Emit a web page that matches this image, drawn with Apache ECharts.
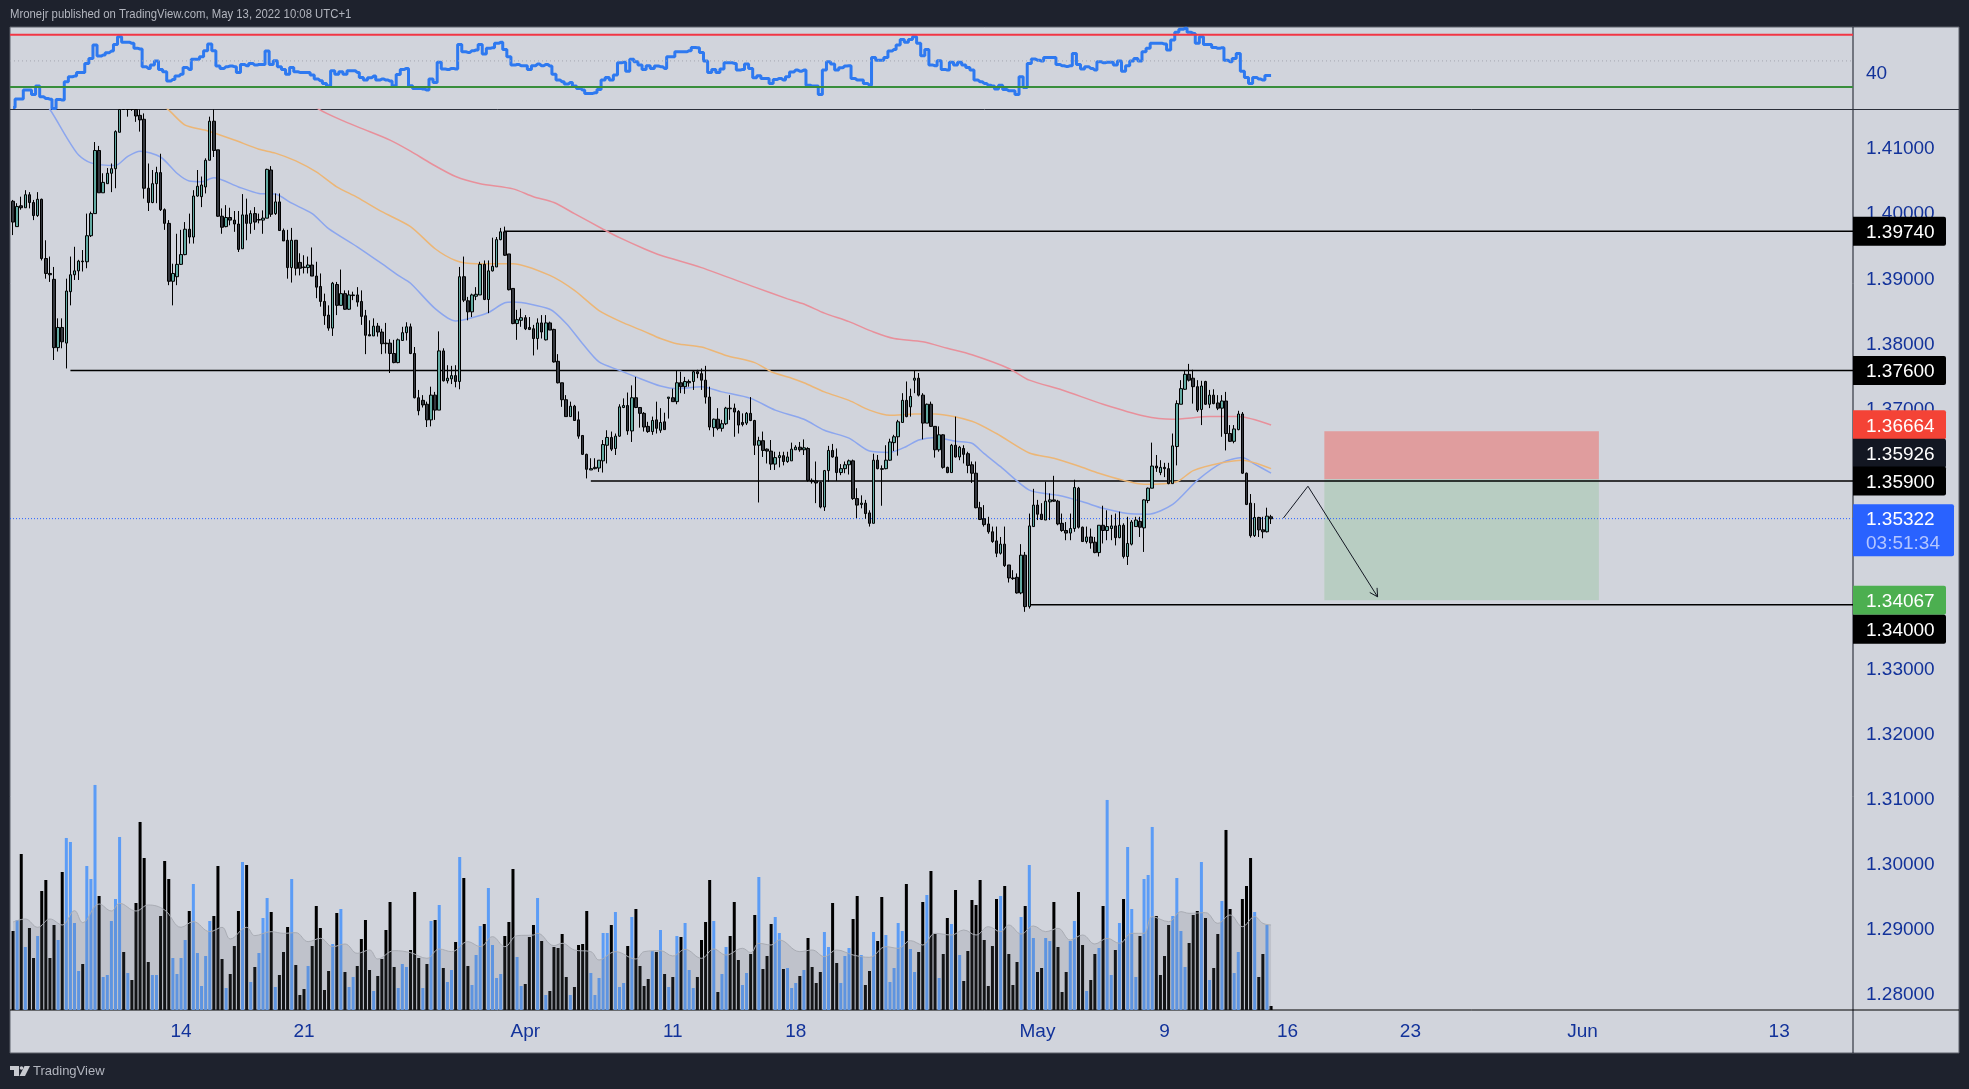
<!DOCTYPE html>
<html><head><meta charset="utf-8"><style>html,body{margin:0;padding:0;background:#1e222d}#c{width:1969px;height:1089px}</style>
<script src="https://cdn.jsdelivr.net/npm/echarts@6/dist/echarts.min.js"></script></head><body><div id="c"></div><script>
// bars: [open, high, low, close] in 1/10000 price units
const ohlc=[
[14020,14022,13968,13988],[13981,14017,13981,14012],[14013,14027,14007,14010],[14010,14037,14010,14030],[14030,14034,14009,14018],[14018,14022,13991,13998],[13998,14034,13996,14023],[14023,14024,13929,13932],[13932,13960,13901,13909],[13909,13935,13896,13907],
[13900,13919,13776,13795],[13795,13840,13789,13826],[13826,13840,13794,13804],[13802,13901,13763,13882],[13881,13935,13860,13907],[13907,13950,13899,13913],[13913,13930,13899,13928],[13928,13945,13912,13927],[13927,14001,13917,13967],[13967,14004,13965,14001],
[14001,14111,14001,14098],[14098,14105,14033,14033],[14033,14063,14033,14049],[14047,14071,14047,14063],[14063,14078,14034,14070],[14070,14129,14040,14127],[14126,14195,14126,14180],[14180,14195,14162,14165],[14170,14190,14150,14180],[14180,14185,14159,14170],
[14170,14180,14142,14151],[14152,14165,14127,14145],[14146,14155,14024,14040],[14040,14078,14005,14018],[14018,14068,14017,14047],[14047,14073,14017,14064],[14064,14093,14005,14007],[14007,14009,13976,13986],[13986,13991,13891,13897],[13897,13924,13860,13909],
[13904,13970,13891,13923],[13923,13976,13922,13938],[13938,13988,13937,13977],[13977,14001,13955,13965],[13965,14037,13955,14028],[14028,14068,14027,14043],[14027,14058,14011,14045],[14042,14086,14032,14083],[14083,14150,14083,14143],[14143,14161,14088,14098],
[14099,14099,13996,13997],[13997,14009,13970,13980],[13981,14014,13980,13995],[13995,14010,13983,13991],[13991,14005,13973,13985],[13985,14005,13942,13946],[13947,14031,13947,13999],[13999,14024,13960,13986],[13986,14006,13970,14001],[14001,14011,13976,13988],
[13991,14001,13986,13992],[13991,14006,13970,13994],[13994,14070,13994,14069],[14068,14074,13996,14000],[14001,14032,13999,14019],[14019,14032,13975,13975],[13975,13978,13959,13959],[13960,13976,13901,13918],[13918,13979,13895,13960],[13960,13960,13906,13917],
[13926,13940,13906,13917],[13919,13937,13909,13918],[13918,13935,13909,13922],[13922,13949,13905,13905],[13905,13927,13871,13888],[13889,13909,13858,13866],[13866,13878,13830,13844],[13845,13860,13821,13825],[13825,13896,13813,13894],[13892,13896,13845,13860],
[13860,13915,13860,13878],[13878,13883,13853,13854],[13854,13883,13853,13876],[13875,13881,13868,13876],[13876,13888,13858,13865],[13866,13883,13830,13843],[13844,13853,13785,13814],[13815,13837,13813,13813],[13813,13840,13813,13828],[13828,13833,13812,13819],
[13819,13824,13785,13801],[13802,13833,13786,13801],[13802,13808,13756,13786],[13786,13807,13771,13772],[13772,13809,13771,13807],[13806,13827,13806,13818],[13818,13834,13806,13827],[13827,13832,13785,13786],[13786,13796,13717,13718],[13718,13730,13691,13698],
[13714,13722,13703,13707],[13708,13712,13673,13684],[13684,13735,13674,13722],[13722,13727,13684,13699],[13699,13820,13699,13790],[13790,13794,13743,13744],[13744,13768,13740,13748],[13747,13767,13739,13752],[13752,13768,13734,13743],[13743,13919,13731,13904],
[13904,13935,13865,13868],[13867,13873,13837,13850],[13850,13878,13842,13876],[13874,13888,13868,13877],[13876,13927,13876,13923],[13923,13929,13868,13869],[13869,13929,13848,13913],[13913,13964,13912,13920],[13919,13965,13919,13961],[13961,13979,13960,13973],
[13973,13981,13936,13937],[13939,13939,13883,13884],[13886,13886,13831,13832],[13832,13853,13807,13838],[13837,13855,13827,13841],[13841,13845,13822,13824],[13826,13842,13822,13823],[13824,13830,13783,13809],[13809,13840,13792,13833],[13833,13845,13809,13819],
[13807,13845,13806,13833],[13833,13835,13822,13822],[13823,13824,13772,13773],[13774,13785,13740,13741],[13741,13741,13704,13715],[13715,13722,13689,13689],[13689,13712,13689,13705],[13705,13707,13683,13683],[13684,13697,13655,13659],[13660,13660,13630,13631],
[13631,13632,13594,13608],[13607,13625,13607,13609],[13609,13625,13608,13611],[13610,13622,13604,13622],[13621,13653,13603,13646],[13645,13668,13617,13657],[13657,13666,13636,13639],[13640,13663,13630,13659],[13659,13708,13658,13704],[13703,13717,13702,13706],
[13706,13726,13661,13667],[13667,13737,13650,13718],[13718,13750,13702,13703],[13703,13703,13672,13694],[13694,13696,13666,13673],[13674,13681,13664,13666],[13666,13689,13661,13683],[13684,13712,13663,13671],
[13668,13702,13664,13680],[13681,13695,13669,13669],
[13717,13719,13686,13719],[13718,13732,13712,13712],[13712,13760,13708,13741],[13741,13758,13725,13735],[13735,13750,13724,13743],[13741,13746,13735,13743],[13743,13760,13730,13758],[13758,13761,13748,13755],[13755,13763,13730,13745],[13745,13767,13709,13719],
[13719,13735,13668,13673],[13672,13686,13658,13685],[13685,13702,13668,13671],[13671,13684,13666,13678],[13678,13704,13676,13702],[13702,13722,13684,13701],[13702,13709,13658,13696],[13697,13699,13663,13676],[13680,13694,13674,13677],[13679,13696,13676,13694],
[13694,13719,13682,13683],[13683,13684,13630,13645],[13645,13658,13557,13652],[13652,13666,13627,13637],[13639,13640,13617,13636],[13636,13653,13607,13616],[13616,13635,13607,13626],[13626,13635,13611,13629],[13629,13635,13614,13620],[13620,13635,13618,13627],
[13621,13649,13621,13639],[13638,13645,13638,13642],[13642,13650,13635,13638],[13638,13654,13630,13641],[13640,13642,13589,13591],[13591,13594,13586,13589],[13590,13620,13556,13587],[13588,13589,13548,13550],[13550,13607,13544,13606],[13606,13644,13589,13637],
[13637,13647,13626,13627],[13627,13640,13590,13603],[13603,13616,13599,13609],[13609,13620,13602,13615],[13615,13623,13600,13621],[13621,13623,13561,13563],[13563,13579,13533,13553],[13554,13568,13548,13556],[13556,13561,13532,13540],[13541,13545,13520,13525],
[13525,13632,13525,13622],[13622,13630,13608,13609],[13609,13614,13552,13608],[13609,13645,13608,13622],[13622,13655,13621,13650],[13649,13661,13636,13658],[13658,13684,13629,13681],[13680,13725,13680,13714],[13714,13743,13688,13689],[13704,13732,13689,13720],
[13745,13760,13725,13748],[13748,13756,13720,13722],[13722,13725,13654,13679],[13679,13709,13679,13708],[13708,13712,13673,13674],[13674,13674,13626,13638],[13638,13674,13635,13661],[13661,13662,13609,13611],[13611,13612,13602,13603],[13603,13647,13603,13645],
[13645,13689,13626,13627],[13627,13644,13622,13642],[13640,13645,13617,13631],[13632,13635,13602,13614],[13615,13620,13587,13602],[13602,13620,13548,13549],[13549,13558,13530,13531],[13532,13553,13520,13523],[13524,13535,13509,13512],[13512,13520,13495,13497],
[13498,13520,13473,13479],[13479,13504,13477,13493],[13493,13520,13458,13460],[13461,13461,13434,13441],[13441,13453,13438,13440],[13442,13448,13417,13418],[13418,13493,13416,13476],[13476,13481,13389,13397],[13397,13540,13394,13521],[13520,13578,13520,13553],
[13553,13561,13530,13539],[13539,13556,13530,13531],[13530,13589,13530,13559],[13558,13571,13530,13561],[13561,13598,13558,13559],[13559,13561,13522,13524],[13525,13540,13512,13514],[13514,13527,13499,13510],[13510,13540,13499,13517],[13517,13592,13512,13580],
[13579,13581,13517,13519],[13519,13520,13497,13497],[13497,13520,13494,13504],[13504,13517,13486,13495],[13496,13504,13479,13480],[13480,13522,13474,13522],[13522,13552,13494,13514],[13514,13545,13499,13520],[13517,13538,13499,13521],[13521,13540,13491,13503],
[13503,13543,13502,13522],[13522,13525,13471,13474],[13474,13535,13461,13494],[13493,13530,13491,13527],[13520,13535,13520,13530],[13528,13535,13504,13519],[13518,13562,13481,13561],[13560,13580,13556,13579],[13579,13649,13579,13613],[13613,13630,13604,13610],
[13603,13622,13599,13611],[13611,13618,13596,13609],[13609,13618,13585,13586],[13586,13663,13586,13644],[13643,13714,13614,13709],[13708,13745,13708,13732],[13731,13759,13730,13754],[13754,13770,13743,13745],[13748,13761,13709,13735],[13735,13745,13696,13699],
[13700,13744,13676,13736],[13743,13744,13707,13708],[13708,13730,13702,13722],[13722,13731,13708,13709],[13710,13722,13699,13702],[13702,13722,13658,13713],[13713,13727,13637,13663],[13663,13676,13650,13651],[13651,13676,13648,13670],[13669,13698,13668,13693],
[13693,13696,13601,13602],[13602,13603,13553,13554],[13556,13570,13503,13506],[13506,13556,13504,13534],[13534,13535,13504,13515],[13515,13535,13502,13512],[13512,13549,13511,13536],[13535,13538,13524,13532]
];
const volumes=[
237,270,468,189,246,156,222,357,390,156,255,210,414,516,504,261,117,138,432,393,
675,342,99,105,267,333,519,174,111,90,321,564,456,144,105,105,282,447,393,156,
108,156,210,297,378,171,72,162,267,282,432,153,66,108,192,297,444,435,84,129,
171,276,336,294,69,105,174,249,393,135,45,63,132,192,312,246,60,117,198,291,
303,114,69,99,132,213,270,120,57,102,153,240,324,129,66,138,129,180,354,156,
66,138,267,270,315,126,84,120,204,459,396,132,75,165,252,258,366,195,96,108,
222,264,423,159,72,78,219,255,336,207,45,57,189,186,228,99,45,69,195,198,
297,111,45,96,231,231,255,294,69,81,192,279,303,132,72,93,177,174,240,108,
69,99,222,219,261,120,66,99,210,264,390,267,54,108,189,222,324,150,75,111,
168,285,399,123,162,258,279,231,123,126,66,81,102,120,216,129,81,114,234,189,
321,141,81,162,186,273,342,165,75,117,234,207,339,225,84,126,261,237,378,183,
114,174,324,345,417,228,96,168,276,258,360,165,87,177,330,315,390,210,72,192,
333,342,372,168,75,144,279,312,435,216,114,126,216,207,324,189,54,114,207,267,
354,195,57,90,168,186,312,630,105,180,261,333,489,303,99,222,393,405,549,282,
105,162,255,282,396,237,129,201,285,297,444,276,90,126,228,327,540,303,111,174,
333,372,456,294,99,168,255,12];
const volumeUp=[
0,1,0,1,0,0,1,0,0,0,0,1,0,1,1,1,1,0,1,1,
1,0,1,1,1,1,1,0,1,0,0,0,0,0,1,1,0,0,0,1,
1,1,1,0,1,1,1,1,1,0,0,0,1,0,0,0,1,0,1,0,
1,1,1,0,1,0,0,0,1,0,0,0,1,0,0,0,0,0,1,0,
1,0,1,1,0,0,0,0,1,0,0,0,0,0,1,1,1,0,0,0,
1,0,1,0,1,0,1,1,0,1,0,0,1,1,1,0,1,1,1,1,
0,0,0,1,1,0,0,0,1,0,1,0,0,0,0,0,1,0,0,0,
0,1,1,1,1,1,0,1,1,1,0,1,0,0,0,0,1,0,1,0,
1,0,1,0,1,1,1,0,0,0,0,1,0,1,1,0,0,0,1,1,
0,0,1,0,0,0,1,1,0,1,1,1,0,1,0,0,0,0,1,1,
0,0,1,1,1,0,0,1,0,0,1,0,0,1,1,1,1,1,0,1,
1,0,0,1,0,0,1,0,0,1,0,1,0,0,0,0,0,0,0,0,
0,1,0,0,0,0,1,0,1,1,0,0,1,1,0,0,0,0,1,1,
0,0,1,0,0,1,0,1,1,0,1,0,1,1,1,0,1,1,1,0,
0,0,0,1,1,1,1,0,0,0,1,0,1,0,0,1,0,0,1,1,
0,0,0,1,0,0,1,0];
const volumeAverage=[[0,264],[3,273],[6,248],[9,273],[12,255],[15,298],[17,262],[21,318],[24,297],[26,320],[30,297],[33,315],[37,300],[41,248],[44,265],[48,235],[51,248],[53,213],[57,248],[59,223],[63,235],[66,230],[69,232],[72,205],[75,215],[78,190],[81,198],[84,170],[87,180],[89,153],[93,178],[97,172],[101,155],[104,183],[107,175],[111,205],[114,190],[117,220],[120,190],[123,223],[127,225],[128,230],[132,193],[134,200],[137,180],[141,175],[143,150],[147,175],[152,153],[154,175],[158,178],[161,162],[164,182],[168,155],[171,183],[174,165],[178,185],[180,172],[182,200],[185,195],[187,210],[192,175],[195,180],[198,160],[201,180],[205,165],[209,158],[213,190],[216,185],[219,208],[222,195],[225,230],[229,225],[232,240],[235,225],[238,250],[241,235],[243,255],[246,228],[249,252],[252,235],[255,245],[258,210],[261,225],[264,198],[267,215],[270,200],[273,230],[276,230],[278,280],[282,265],[285,295],[287,290],[291,292],[294,260],[297,285],[300,250],[303,280],[305,260],[307,255]];
const rsi=[
14.4,21.0,21.0,27.7,27.7,24.4,30.8,22.6,21.3,20.8,13.7,20.6,20.1,34.1,37.9,38.4,41.2,41.2,48.1,51.9,
62.1,53.7,54.5,56.3,57.5,62.6,68.5,64.2,64.2,63.4,59.6,59.1,45.6,44.3,46.8,49.9,43.5,41.7,34.6,35.9,
38.4,39.9,45.0,43.5,51.2,51.2,53.2,57.8,62.9,57.8,46.1,44.3,45.6,46.1,45.6,41.2,47.3,46.3,48.1,46.8,
47.3,47.3,57.5,47.3,50.1,45.6,43.5,39.9,45.0,41.7,41.2,41.2,41.2,39.2,36.1,34.8,32.8,31.0,42.5,39.9,
41.7,39.9,42.5,42.5,41.2,37.4,35.4,37.1,38.4,35.4,36.1,35.4,34.6,31.0,39.7,43.5,44.3,31.0,29.0,29.0,
28.5,27.7,36.1,33.6,48.9,43.8,43.5,44.3,43.8,62.6,57.0,56.5,57.8,58.3,62.6,55.2,59.6,60.1,63.4,64.2,
58.8,53.2,46.8,47.3,46.3,46.3,43.5,46.3,47.6,46.3,47.3,46.1,39.9,35.4,34.1,32.3,33.6,30.8,29.0,27.7,
25.2,25.2,25.7,28.2,35.4,37.4,35.4,39.2,48.6,48.9,42.2,51.2,49.4,46.8,43.5,46.3,44.3,46.1,
45.6,44.3,53.2,53.2,57.0,57.0,57.0,57.8,60.3,60.1,
56.5,49.9,41.2,43.5,41.2,43.8,48.6,48.6,48.1,43.0,
43.5,47.6,44.3,37.1,38.7,36.6,36.6,32.8,35.9,36.6,
35.4,37.9,41.5,43.0,42.2,43.0,31.5,30.8,30.8,24.4,
43.0,49.4,47.6,43.0,44.8,46.1,46.3,36.6,35.4,35.4,
32.8,31.5,52.7,50.6,50.6,52.7,57.5,58.8,62.1,66.4,
64.2,66.4,68.5,63.4,54.0,58.8,46.8,46.3,50.1,43.5,
43.0,48.9,46.8,48.9,46.8,45.0,43.0,35.4,34.1,32.8,
31.5,30.8,28.5,31.5,28.2,27.2,27.2,24.4,37.9,29.7,
48.1,51.4,50.6,49.9,52.7,52.7,52.7,47.3,46.3,45.8,
46.3,55.7,47.3,43.8,45.6,44.3,43.0,49.4,48.6,48.9,
48.9,46.8,49.9,42.2,46.3,49.9,51.9,49.9,57.0,59.6,
63.4,63.4,63.4,62.9,58.3,65.9,71.8,74.1,74.9,71.8,
71.0,63.4,68.5,62.6,62.6,60.3,59.6,60.1,50.6,49.4,
51.9,55.7,42.2,37.4,32.8,37.4,36.1,35.4,38.9,38.9];
const emaFast=[[5,14190],[9,14161],[13,14119],[16,14091],[19,14079],[25,14075],[28,14089],[31,14097],[36,14088],[40,14063],[43,14051],[46,14050],[49,14056],[55,14042],[60,14032],[64,14031],[68,14017],[73,14001],[77,13978],[84,13950],[90,13924],[94,13906],[97,13894],[103,13855],[108,13836],[112,13841],[116,13849],[120,13864],[122,13865],[131,13854],[135,13832],[139,13801],[143,13773],[148,13760],[152,13750],[158,13736],[162,13732],[168,13735],[173,13727],[180,13717],[186,13699],[193,13685],[198,13668],[204,13656],[209,13636],[214,13634],[218,13643],[221,13653],[225,13657],[230,13651],[234,13648],[237,13632],[241,13612],[248,13576],[255,13568],[261,13558],[266,13548],[272,13540],[277,13539],[283,13554],[289,13591],[295,13618],[300,13626],[303,13616],[307,13602]];
const emaMid=[[32,14190],[38,14160],[42,14137],[47,14129],[54,14114],[60,14100],[64,14094],[69,14082],[74,14065],[79,14042],[84,14026],[90,14004],[97,13981],[103,13947],[108,13929],[113,13924],[122,13924],[131,13906],[137,13883],[143,13852],[149,13833],[154,13820],[158,13809],[162,13801],[168,13796],[174,13783],[181,13772],[185,13758],[190,13748],[193,13741],[198,13727],[204,13714],[209,13699],[214,13691],[220,13693],[225,13693],[234,13682],[240,13663],[248,13633],[254,13625],[260,13613],[265,13602],[271,13591],[276,13585],[284,13589],[288,13606],[295,13618],[300,13622],[307,13609]];
const emaSlow=[[65,14200],[75,14160],[80,14145],[85,14132],[92,14114],[97,14097],[102,14078],[108,14058],[114,14047],[122,14039],[127,14027],[132,14018],[137,14001],[144,13977],[148,13964],[154,13947],[158,13937],[168,13918],[181,13888],[189,13870],[193,13862],[198,13848],[204,13835],[210,13819],[215,13809],[222,13804],[228,13794],[234,13784],[243,13763],[248,13745],[256,13730],[266,13708],[276,13690],[283,13685],[292,13689],[299,13689],[307,13676]];
const priceTicks=[1.41,1.40,1.39,1.38,1.37,1.36,1.35,1.34,1.33,1.32,1.31,1.30,1.29,1.28];
const rsiTicks=[40];
const rsiLevels=[70,50,30];
const timeLabels={41:'14',71:'21',125:'Apr',161:'11',191:'18',250:'May',281:'9',311:'16',341:'23',383:'Jun',431:'13'};
const levelPrices=[1.3974,1.376,1.359,1.34];
const levelStartBars=[120,14,141,248];
const lastPrice=1.35322;
const countdown='03:51:34';
const riskBars=[320,387];
const stopPrice=1.36664, entryPrice=1.35926, targetPrice=1.34067;
const arrowBars=[310,316,333];
const arrowPrices=[1.3533,1.3582,1.3412];
const tagPrices=[1.3974,1.376,1.36664,1.35926,1.359,1.34067,1.34];

// layout / style
const BAR_SLOTS=450, AXIS_X=1853, PANE_X=10, PRICE_MAX=1.4161, AXIS_FONT='"Liberation Sans",sans-serif', AXIS_COLOR='#12329a', TAG_H=29, FS=19;
const tagColor={1.3974:'#000',1.376:'#000',1.36664:'#f44336',1.35926:'#131722',1.359:'#000',1.34067:'#4caf50',1.34:'#000'};
const tagShift={1.36664:-6.5,1.35926:-26,1.34:24.5};
if(ohlc.length!==308||volumes.length!==308||volumeUp.length!==308||rsi.length!==308) throw new Error('len '+[ohlc.length,volumes.length,volumeUp.length,rsi.length]);

const cats=Array.from({length:BAR_SLOTS},(_,i)=>String(i));
const fmtP=v=>v.toFixed(5);
const scaled=a=>a.map(([i,p])=>[i,p/1e4]);
const clampTop=v=>Math.min(v/1e4,PRICE_MAX);
const chart=echarts.init(document.getElementById('c'),null,{renderer:'canvas'});

function drawRsiLevels(params,api){
  const styles=[{stroke:'#f23645',lineWidth:2},{stroke:'#a4a7b0',lineWidth:1,lineDash:[1,3]},{stroke:'#388e3c',lineWidth:2}];
  return {type:'group',children:rsiLevels.map((v,k)=>{const y=api.coord([0,v])[1];
    return {type:'line',shape:{x1:PANE_X,y1:y,x2:AXIS_X,y2:y},style:styles[k]}})};
}
function drawOverlay(params,api){
  const ch=[];
  const rect=(b0,b1,p0,p1,fill)=>{const a=api.coord([b0,p0]),b=api.coord([b1,p1]);return{type:'rect',shape:{x:a[0],y:a[1],width:b[0]-a[0],height:b[1]-a[1]},style:{fill}}};
  ch.push(rect(riskBars[0],riskBars[1],stopPrice,entryPrice,'#e09d9e'));
  ch.push(rect(riskBars[0],riskBars[1],entryPrice,targetPrice,'#b8cdc2'));
  levelPrices.forEach((p,k)=>{const a=api.coord([levelStartBars[k],p]);
    ch.push({type:'line',shape:{x1:a[0],y1:a[1],x2:AXIS_X,y2:a[1]},style:{stroke:'#000',lineWidth:1.5}})});
  const ly=api.coord([0,lastPrice])[1];
  ch.push({type:'line',shape:{x1:PANE_X,y1:ly,x2:AXIS_X,y2:ly},style:{stroke:'#2962ff',lineWidth:1,lineDash:[1,2]}});
  const pts=arrowBars.map((b,k)=>api.coord([b,arrowPrices[k]]));
  ch.push({type:'polyline',shape:{points:pts},style:{stroke:'#131722',lineWidth:1,fill:null}});
  const e=pts[2],s=pts[1],ang=Math.atan2(e[1]-s[1],e[0]-s[0]),L=9;
  ch.push({type:'polyline',shape:{points:[[e[0]-L*Math.cos(ang-0.5),e[1]-L*Math.sin(ang-0.5)],e,[e[0]-L*Math.cos(ang+0.5),e[1]-L*Math.sin(ang+0.5)]]},style:{stroke:'#131722',lineWidth:1,fill:null}});
  return {type:'group',children:ch};
}
function drawTags(params,api){
  const x=AXIS_X, ch=[];
  const txt=(t,cy,fill)=>({type:'text',z2:5,style:{text:t,x:x+13,y:cy,fill,font:FS+'px '+AXIS_FONT,verticalAlign:'middle',align:'left'}});
  tagPrices.forEach(p=>{const cy=api.coord([0,p])[1]+(tagShift[p]||0);
    ch.push({type:'rect',shape:{x:x,y:cy-TAG_H/2,width:93,height:TAG_H,r:[0,2,2,0]},style:{fill:tagColor[p]}});
    ch.push(txt(fmtP(p),cy+1.5,'#fff'));});
  const ly=api.coord([0,lastPrice])[1];
  ch.push({type:'rect',shape:{x:x,y:ly-14.5,width:101,height:52,r:[0,2,2,0]},style:{fill:'#2962ff'}});
  ch.push(txt(fmtP(lastPrice),ly+1.5,'#fff'));
  ch.push(txt(countdown,ly+25,'#b4c6ff'));
  return {type:'group',children:ch};
}

chart.setOption({
  animation:false,backgroundColor:'#1e222d',
  title:[
    {text:'TradingView',left:33,top:1065,padding:0,textStyle:{color:'#b2b5be',fontSize:13,fontWeight:'normal',fontFamily:AXIS_FONT}}
  ],
  graphic:{elements:[
    {type:'rect',z:-10,shape:{x:10,y:27,width:1949,height:1026},style:{fill:'#d1d4dc',stroke:'#5d606b',lineWidth:1}},
    {type:'line',z:-9,shape:{x1:AXIS_X,y1:27,x2:AXIS_X,y2:1053},style:{stroke:'#131722',lineWidth:1}},
    {type:'line',z:-9,shape:{x1:10,y1:109.5,x2:1959,y2:109.5},style:{stroke:'#2a2e39',lineWidth:1}},
    {type:'line',z:-9,shape:{x1:10,y1:1010,x2:1959,y2:1010},style:{stroke:'#000',lineWidth:1}},
    {type:'text',x:10,y:7,scaleX:0.84,style:{text:'Mronejr published on TradingView.com, May 13, 2022 10:08 UTC+1',fill:'#b2b5be',font:'13.5px '+AXIS_FONT}},
    {type:'polygon',shape:{points:[[10,1066],[19,1066],[19,1076],[14,1076],[14,1070],[10,1070]]},style:{fill:'#c8cad0'}},
    {type:'circle',shape:{cx:21.5,cy:1068,r:1.8},style:{fill:'#c8cad0'}},
    {type:'polygon',shape:{points:[[24.5,1066],[30,1066],[25,1076],[19.5,1076]]},style:{fill:'#c8cad0'}}
  ]},
  grid:[{left:11,right:114,top:27,height:82.5},{left:11,right:114,top:109.5,height:900.5}],
  xAxis:[
    {type:'category',gridIndex:0,data:cats,show:false,boundaryGap:true},
    {type:'category',gridIndex:1,data:cats,boundaryGap:true,axisLine:{show:false},axisTick:{show:false},splitLine:{show:false},
     axisLabel:{interval:i=>timeLabels[i]!==undefined,formatter:(v,i)=>timeLabels[i]||'',color:AXIS_COLOR,fontFamily:AXIS_FONT,fontSize:FS,margin:12,hideOverlap:false}}
  ],
  yAxis:[
    {type:'value',gridIndex:0,position:'right',min:12.9,max:75.9,axisLine:{show:false},axisTick:{show:false},splitLine:{show:false},
     axisLabel:{customValues:rsiTicks,color:AXIS_COLOR,fontFamily:AXIS_FONT,fontSize:FS,margin:11,padding:[4,0,0,0],formatter:v=>String(v)}},
    {type:'value',gridIndex:1,position:'right',min:1.2777,max:PRICE_MAX,scale:true,axisLine:{show:false},axisTick:{show:false},splitLine:{show:false},
     axisLabel:{customValues:priceTicks,color:AXIS_COLOR,fontFamily:AXIS_FONT,fontSize:FS,margin:11,padding:[4,0,0,0],formatter:fmtP}},
    {type:'value',gridIndex:1,min:0,max:2701,show:false,splitLine:{show:false}}
  ],
  series:[
    {type:'line',name:'RSI',xAxisIndex:0,yAxisIndex:0,data:rsi,step:'middle',showSymbol:false,z:3,lineStyle:{color:'#2e79f0',width:3},silent:true},
    {type:'custom',name:'RSI levels',xAxisIndex:0,yAxisIndex:0,data:[0],renderItem:drawRsiLevels,z:4,silent:true},
    {type:'bar',name:'Volume',xAxisIndex:1,yAxisIndex:2,barWidth:3,z:2,silent:true,
     data:volumes.map((v,i)=>({value:v,itemStyle:{color:volumeUp[i]?'#5b9cf6':'#000'}}))},
    {type:'line',name:'Volume MA',xAxisIndex:1,yAxisIndex:2,data:volumeAverage,smooth:0.4,showSymbol:false,z:3,silent:true,
     lineStyle:{color:'#a9acb4',width:1},areaStyle:{color:'rgba(110,113,124,0.25)'}},
    {type:'line',name:'EMA fast',xAxisIndex:1,yAxisIndex:1,data:scaled(emaFast),smooth:0.25,showSymbol:false,z:4,silent:true,lineStyle:{color:'#8ca6ee',width:1.5}},
    {type:'line',name:'EMA mid',xAxisIndex:1,yAxisIndex:1,data:scaled(emaMid),smooth:0.25,showSymbol:false,z:4,silent:true,lineStyle:{color:'#ecb676',width:1.5}},
    {type:'line',name:'EMA slow',xAxisIndex:1,yAxisIndex:1,data:scaled(emaSlow),smooth:0.25,showSymbol:false,z:4,silent:true,lineStyle:{color:'#e8909b',width:1.5}},
    {type:'custom',name:'Drawings',xAxisIndex:1,yAxisIndex:1,data:[0],renderItem:drawOverlay,z:3,silent:true},
    {type:'candlestick',name:'Price',xAxisIndex:1,yAxisIndex:1,barWidth:3,z:5,silent:true,
     data:ohlc.map(([o,h,l,c])=>[clampTop(o),clampTop(c),clampTop(l),clampTop(h)]),
     itemStyle:{color:'#62aaa2',color0:'#33363d',borderColor:'#000',borderColor0:'#000',borderWidth:1}},
    {type:'custom',name:'Tags',xAxisIndex:1,yAxisIndex:1,data:[0],renderItem:drawTags,z:20,silent:true}
  ]
});
</script></body></html>
